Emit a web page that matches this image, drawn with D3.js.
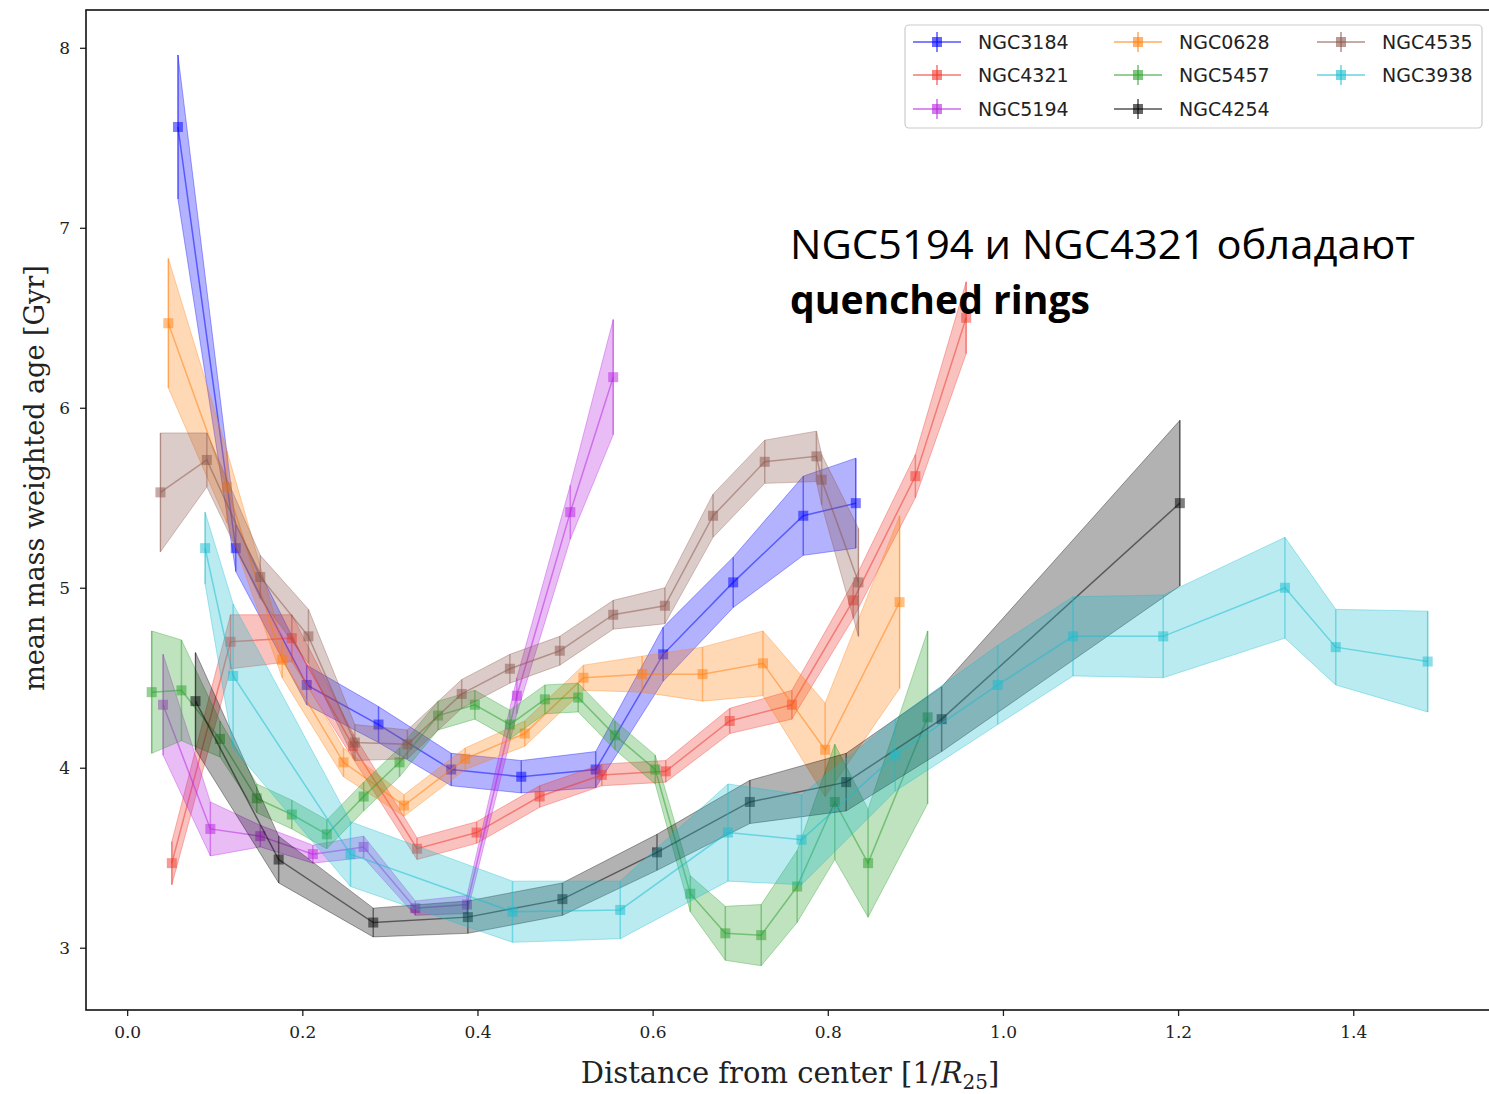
<!DOCTYPE html>
<html>
<head>
<meta charset="utf-8">
<script src="https://cdn.jsdelivr.net/npm/d3@7/dist/d3.min.js"></script>
<style>
  body { margin: 0; background: #fff; }
</style>
</head>
<body>
<script>
// --- Data ---
var names  = ["NGC3184", "NGC4321", "NGC5194", "NGC0628", "NGC5457", "NGC4254", "NGC4535", "NGC3938"];
var colors = ["#0000ff", "#f0362c", "#b722e0", "#ff7f0e", "#2ca02c", "#000000", "#8c564b", "#17becf"];

var ngc3184X = [0.058, 0.124, 0.205, 0.287, 0.370, 0.450, 0.535, 0.612, 0.692, 0.772, 0.832];
var ngc3184Y = [7.56, 5.22, 4.46, 4.24, 3.99, 3.95, 3.99, 4.63, 5.03, 5.40, 5.47];
var ngc3184E = [0.40, 0.13, 0.11, 0.10, 0.09, 0.09, 0.10, 0.15, 0.14, 0.22, 0.25];

var ngc4321X = [0.051, 0.118, 0.188, 0.258, 0.331, 0.399, 0.471, 0.542, 0.615, 0.688, 0.759, 0.829, 0.900, 0.958];
var ngc4321Y = [3.47, 4.70, 4.72, 4.12, 3.55, 3.64, 3.84, 3.96, 3.98, 4.26, 4.35, 4.93, 5.62, 6.50];
var ngc4321E = [0.12, 0.15, 0.13, 0.07, 0.06, 0.06, 0.06, 0.06, 0.06, 0.07, 0.08, 0.10, 0.12, 0.20];

var ngc5194X = [0.041, 0.095, 0.152, 0.212, 0.270, 0.329, 0.388, 0.445, 0.506, 0.555];
var ngc5194Y = [4.35, 3.66, 3.62, 3.52, 3.56, 3.22, 3.24, 4.40, 5.42, 6.17];
var ngc5194E = [0.28, 0.15, 0.06, 0.05, 0.06, 0.04, 0.05, 0.10, 0.15, 0.32];

var ngc0628X = [0.047, 0.114, 0.177, 0.247, 0.316, 0.386, 0.454, 0.521, 0.588, 0.657, 0.726, 0.797, 0.882];
var ngc0628Y = [6.47, 5.56, 4.60, 4.03, 3.79, 4.05, 4.19, 4.50, 4.52, 4.52, 4.58, 4.10, 4.92];
var ngc0628E = [0.36, 0.20, 0.10, 0.08, 0.06, 0.06, 0.07, 0.07, 0.10, 0.15, 0.18, 0.26, 0.48];

var ngc5457X = [0.028, 0.062, 0.106, 0.148, 0.188, 0.228, 0.270, 0.311, 0.355, 0.397, 0.437, 0.477, 0.515, 0.557, 0.603, 0.643, 0.683, 0.724, 0.765, 0.808, 0.846, 0.914];
var ngc5457Y = [4.42, 4.43, 4.16, 3.83, 3.74, 3.63, 3.84, 4.03, 4.29, 4.35, 4.24, 4.38, 4.39, 4.18, 3.99, 3.30, 3.08, 3.07, 3.34, 3.81, 3.47, 4.28];
var ngc5457E = [0.34, 0.28, 0.10, 0.08, 0.08, 0.08, 0.08, 0.08, 0.08, 0.08, 0.08, 0.08, 0.08, 0.08, 0.08, 0.10, 0.15, 0.17, 0.20, 0.32, 0.30, 0.48];

var ngc4254X = [0.078, 0.173, 0.281, 0.389, 0.497, 0.605, 0.711, 0.821, 0.930, 1.202];
var ngc4254Y = [4.37, 3.49, 3.14, 3.17, 3.27, 3.53, 3.81, 3.92, 4.27, 5.47];
var ngc4254E = [0.27, 0.13, 0.08, 0.09, 0.09, 0.10, 0.12, 0.16, 0.18, 0.46];

var ngc4535X = [0.038, 0.091, 0.152, 0.207, 0.260, 0.320, 0.382, 0.437, 0.494, 0.555, 0.614, 0.669, 0.728, 0.787, 0.793, 0.835];
var ngc4535Y = [5.53, 5.71, 5.06, 4.73, 4.14, 4.13, 4.41, 4.55, 4.65, 4.85, 4.90, 5.40, 5.70, 5.73, 5.60, 5.03];
var ngc4535E = [0.33, 0.15, 0.12, 0.15, 0.10, 0.08, 0.08, 0.08, 0.08, 0.08, 0.10, 0.12, 0.12, 0.14, 0.14, 0.30];

var ngc3938X = [0.089, 0.121, 0.255, 0.440, 0.563, 0.686, 0.770, 0.877, 0.994, 1.080, 1.183, 1.322, 1.380, 1.485];
var ngc3938Y = [5.22, 4.51, 3.52, 3.20, 3.21, 3.64, 3.60, 4.07, 4.46, 4.73, 4.73, 5.00, 4.67, 4.59];
var ngc3938E = [0.20, 0.40, 0.18, 0.17, 0.16, 0.27, 0.25, 0.20, 0.22, 0.22, 0.23, 0.28, 0.21, 0.28];

var xTicks = [0.0, 0.2, 0.4, 0.6, 0.8, 1.0, 1.2, 1.4];
var yTicks = [3, 4, 5, 6, 7, 8];

window.onload = function() {
    var w = 1489, h = 1094;
    var left = 86, right = 1489, top = 10, bottom = 1010;

    var seriesX = [ngc3184X, ngc4321X, ngc5194X, ngc0628X, ngc5457X, ngc4254X, ngc4535X, ngc3938X];
    var seriesY = [ngc3184Y, ngc4321Y, ngc5194Y, ngc0628Y, ngc5457Y, ngc4254Y, ngc4535Y, ngc3938Y];
    var seriesE = [ngc3184E, ngc4321E, ngc5194E, ngc0628E, ngc5457E, ngc4254E, ngc4535E, ngc3938E];

    var series = names.map(function(n, i) {
        return {
            name: n,
            color: colors[i],
            points: seriesX[i].map(function(x, j) {
                return { x: x, y: seriesY[i][j], e: seriesE[i][j] };
            })
        };
    });

    var svg = d3.select("body")
        .append("svg")
        .attr("width", w)
        .attr("height", h)
        .style("display", "block");

    // --- Scales ---
    var x = d3.scaleLinear().domain([-0.047, 1.555]).range([left, right]);
    var y = d3.scaleLinear().domain([2.654, 8.21]).range([bottom, top]);

    svg.append("clipPath").attr("id", "plotClip")
        .append("rect")
        .attr("x", left).attr("y", top)
        .attr("width", right - left).attr("height", bottom - top);

    var plot = svg.append("g").attr("clip-path", "url(#plotClip)");

    var line = d3.line().x(d => x(d.x)).y(d => y(d.y));
    var area = d3.area()
        .x(d => x(d.x))
        .y0(d => y(d.y - d.e))
        .y1(d => y(d.y + d.e));

    series.forEach(function(s) {
        var g = plot.append("g").attr("class", "series");

        // error bars
        g.selectAll(".err")
            .data(s.points)
            .enter()
            .append("line")
            .attr("x1", d => x(d.x)).attr("x2", d => x(d.x))
            .attr("y1", d => y(d.y - d.e)).attr("y2", d => y(d.y + d.e))
            .style("stroke", s.color)
            .style("stroke-opacity", 0.45)
            .style("stroke-width", 1.5);

        // connecting line
        g.append("path")
            .datum(s.points)
            .attr("d", line)
            .style("fill", "none")
            .style("stroke", s.color)
            .style("stroke-opacity", 0.5)
            .style("stroke-width", 1.5);

        // square markers
        g.selectAll(".mk")
            .data(s.points)
            .enter()
            .append("rect")
            .attr("x", d => x(d.x) - 5)
            .attr("y", d => y(d.y) - 5)
            .attr("width", 10).attr("height", 10)
            .style("fill", s.color)
            .style("fill-opacity", 0.5);

        // uncertainty band
        g.append("path")
            .datum(s.points)
            .attr("d", area)
            .style("fill", s.color)
            .style("fill-opacity", 0.3)
            .style("stroke", s.color)
            .style("stroke-opacity", 0.35)
            .style("stroke-width", 1);
    });

    // --- Axes ---
    var xAxis = d3.axisBottom(x).tickValues(xTicks).tickFormat(d3.format(".1f")).tickSize(6).tickPadding(10);
    var yAxis = d3.axisLeft(y).tickValues(yTicks).tickFormat(d3.format("d")).tickSize(6).tickPadding(10);

    var gx = svg.append("g")
        .attr("transform", "translate(0," + bottom + ")")
        .call(xAxis);
    var gy = svg.append("g")
        .attr("transform", "translate(" + left + ",0)")
        .call(yAxis);

    [gx, gy].forEach(function(g) {
        g.select(".domain").remove();
        g.selectAll(".tick line").style("stroke", "#222").style("stroke-width", 1.3);
        g.selectAll(".tick text")
            .style("font-family", "'DejaVu Serif', 'Liberation Serif', serif")
            .style("font-size", "17px")
            .style("fill", "#222");
    });

    // spines
    svg.append("rect")
        .attr("x", left).attr("y", top)
        .attr("width", right - left + 10).attr("height", bottom - top)
        .style("fill", "none")
        .style("stroke", "#111")
        .style("stroke-width", 1.6);

    // --- Axis titles ---
    var xt = svg.append("text")
        .attr("x", 790).attr("y", 1083)
        .attr("text-anchor", "middle")
        .style("font-family", "'DejaVu Serif', 'Liberation Serif', serif")
        .style("font-size", "29px")
        .style("fill", "#222");
    xt.append("tspan").text("Distance from center [1/");
    xt.append("tspan").style("font-style", "italic").text("R");
    xt.append("tspan").attr("dy", 6).style("font-size", "20px").text("25");
    xt.append("tspan").attr("dy", -6).text("]");

    svg.append("text")
        .attr("transform", "translate(44,478) rotate(-90)")
        .attr("text-anchor", "middle")
        .style("font-family", "'DejaVu Serif', 'Liberation Serif', serif")
        .style("font-size", "27px")
        .style("fill", "#222")
        .text("mean mass weighted age [Gyr]");

    // --- Legend ---
    var legend = svg.append("g");
    legend.append("rect")
        .attr("x", 905).attr("y", 25)
        .attr("width", 577).attr("height", 103)
        .attr("rx", 4)
        .style("fill", "#fff")
        .style("fill-opacity", 0.85)
        .style("stroke", "#ccc")
        .style("stroke-width", 1.2);

    var colX = [937, 1138, 1341];
    var rowY = [42, 75, 109];
    series.forEach(function(s, i) {
        var cx = colX[Math.floor(i / 3)], cy = rowY[i % 3];
        var e = legend.append("g");
        e.append("line")
            .attr("x1", cx - 24).attr("x2", cx + 24)
            .attr("y1", cy).attr("y2", cy)
            .style("stroke", s.color).style("stroke-opacity", 0.5).style("stroke-width", 2);
        e.append("line")
            .attr("x1", cx).attr("x2", cx)
            .attr("y1", cy - 10).attr("y2", cy + 10)
            .style("stroke", s.color).style("stroke-opacity", 0.5).style("stroke-width", 2);
        e.append("rect")
            .attr("x", cx - 5).attr("y", cy - 5)
            .attr("width", 10).attr("height", 10)
            .style("fill", s.color).style("fill-opacity", 0.6);
        e.append("text")
            .attr("x", cx + 41).attr("y", cy + 7)
            .style("font-family", "'DejaVu Sans', sans-serif")
            .style("font-size", "19px")
            .style("fill", "#222")
            .text(s.name);
    });

    // --- Annotation ---
    svg.append("text")
        .attr("x", 790).attr("y", 259)
        .attr("textLength", 625)
        .attr("lengthAdjust", "spacingAndGlyphs")
        .style("font-family", "'Open Sans', 'Noto Sans', sans-serif")
        .style("font-size", "40px")
        .style("fill", "#000")
        .text("NGC5194 и NGC4321 обладают");

    svg.append("text")
        .attr("x", 790).attr("y", 314)
        .attr("textLength", 300)
        .attr("lengthAdjust", "spacingAndGlyphs")
        .style("font-family", "'Open Sans', 'Noto Sans', sans-serif")
        .style("font-size", "40px")
        .style("font-weight", "bold")
        .style("fill", "#000")
        .text("quenched rings");
};
</script>
</body>
</html>
